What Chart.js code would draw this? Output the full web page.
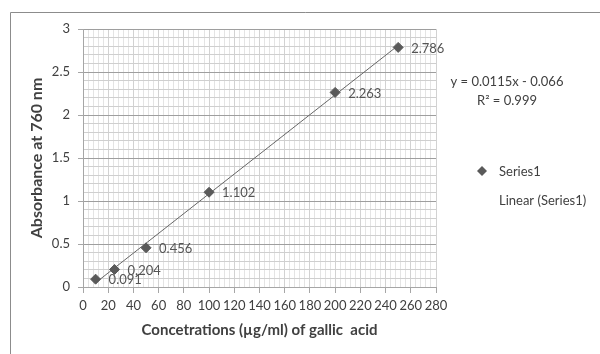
<!DOCTYPE html>
<html>
<head>
<meta charset="utf-8">
<script src="https://cdn.jsdelivr.net/npm/chart.js@4.4.0/dist/chart.umd.min.js"></script>
<style>
  html, body { margin: 0; padding: 0; background: #fff; }
</style>
</head>
<body>
<canvas id="chart" width="600" height="354"></canvas>
<script>
// data
const concentrations = [10, 25, 50, 100, 200, 250];
const absorbance = [0.091, 0.204, 0.456, 1.102, 2.263, 2.786];
const pointLabels = ['0.091', '0.204', '0.456', '1.102', '2.263', '2.786'];
const trendSlope = 0.0115;
const trendIntercept = -0.066;
const trendRange = [10, 250];
const equationLines = ['y = 0.0115x - 0.066', 'R² = 0.999'];
const legendLabels = ['Series1', 'Linear (Series1)'];

const FONT = 'Lato, "Open Sans", sans-serif';
const TEXT = '#404040';
const MARK = '#5a5a5a';

const isMajorY = (v) => Math.abs(v * 2 - Math.round(v * 2)) < 1e-6;
const isMajorX = (v) => Math.abs(v % 20) < 1e-6;

// bits Excel draws around the plot: frame, data labels, equation, legend
const decor = {
  id: 'decor',
  beforeDraw(chart) {
    const c = chart.ctx;
    c.save();
    c.strokeStyle = '#8c8c8c';
    c.lineWidth = 1;
    c.beginPath();
    c.moveTo(10.5, 354);
    c.lineTo(10.5, 12.5);
    c.lineTo(600, 12.5);
    c.stroke();
    c.restore();
  },
  afterDatasetsDraw(chart) {
    const c = chart.ctx;
    const meta = chart.getDatasetMeta(0);
    c.save();
    c.font = '13px ' + FONT;
    c.fillStyle = '#555';
    c.textAlign = 'left';
    c.textBaseline = 'middle';
    meta.data.forEach((pt, i) => {
      c.fillText(pointLabels[i], pt.x + 13, pt.y + 1);
    });
    c.restore();
  },
  afterDraw(chart) {
    const c = chart.ctx;
    c.save();
    c.font = '13px ' + FONT;
    c.fillStyle = TEXT;
    c.textBaseline = 'middle';
    c.textAlign = 'center';
    c.fillText(equationLines[0], 507, 82);
    c.fillText(equationLines[1], 507, 101);

    // legend
    c.fillStyle = MARK;
    c.beginPath();
    c.moveTo(482, 166);
    c.lineTo(487, 171);
    c.lineTo(482, 176);
    c.lineTo(477, 171);
    c.closePath();
    c.fill();
    c.fillStyle = TEXT;
    c.textAlign = 'left';
    c.fillText(legendLabels[0], 499, 172);
    c.fillText(legendLabels[1], 499, 201);
    c.restore();
  }
};

const trendData = trendRange.map(x => ({ x, y: trendSlope * x + trendIntercept }));

new Chart(document.getElementById('chart'), {
  type: 'scatter',
  data: {
    datasets: [
      {
        label: legendLabels[0],
        data: concentrations.map((x, i) => ({ x, y: absorbance[i] })),
        pointStyle: 'rectRot',
        pointRadius: 5,
        backgroundColor: MARK,
        borderColor: MARK,
        borderWidth: 1,
        order: 1,
      },
      {
        label: legendLabels[1],
        type: 'line',
        data: trendData,
        borderColor: '#666',
        borderWidth: 1,
        pointRadius: 0,
        fill: false,
        order: 2,
      },
    ],
  },
  options: {
    responsive: false,
    animation: false,
    layout: { padding: { left: 24, right: 164, top: 29, bottom: 0 } },
    plugins: {
      legend: { display: false },
      tooltip: { enabled: false },
    },
    scales: {
      x: {
        type: 'linear',
        min: 0,
        max: 280,
        afterFit: (s) => { s.height = 67; },
        ticks: {
          stepSize: 4,
          autoSkip: false,
          maxRotation: 0,
          padding: 5,
          color: TEXT,
          font: { family: FONT, size: 13 },
          callback: (v) => (isMajorX(v) ? String(v) : ''),
        },
        grid: {
          color: (ctx) => (ctx.tick && isMajorX(ctx.tick.value) ? '#d2d2d2' : '#e4e4e4'),
          tickColor: (ctx) => (ctx.tick && isMajorX(ctx.tick.value) ? '#a6a6a6' : 'rgba(0,0,0,0)'),
          tickLength: 6,
        },
        border: { color: '#a6a6a6' },
        title: {
          display: true,
          text: 'Concetrations (µg/ml) of gallic  acid',
          color: TEXT,
          font: { family: FONT, size: 15, weight: 'bold' },
          padding: { top: 4, bottom: 15 },
        },
      },
      y: {
        min: 0,
        max: 3,
        afterFit: (s) => { s.width = 59; },
        ticks: {
          stepSize: 0.1,
          autoSkip: false,
          padding: 8,
          color: TEXT,
          font: { family: FONT, size: 13 },
          callback: (v) => (isMajorY(v) ? String(Number(v.toFixed(1))) : ''),
        },
        grid: {
          color: (ctx) => (ctx.tick && isMajorY(ctx.tick.value) ? '#9e9e9e' : '#cfcfcf'),
          tickColor: (ctx) => (ctx.tick && isMajorY(ctx.tick.value) ? '#a6a6a6' : 'rgba(0,0,0,0)'),
          tickLength: 5,
        },
        border: { color: '#a6a6a6' },
        title: {
          display: true,
          text: 'Absorbance at 760 nm',
          color: TEXT,
          font: { family: FONT, size: 16, weight: 'bold' },
          padding: { top: 3, bottom: 4 },
        },
      },
    },
  },
  plugins: [decor],
});
</script>
</body>
</html>
